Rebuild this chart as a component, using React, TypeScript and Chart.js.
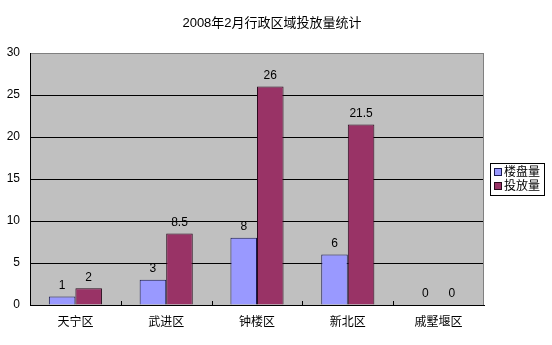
import React, { useEffect, useRef } from "react";
import { Chart, registerables } from "chart.js";

Chart.register(...registerables);

const title = "2008年2月行政区域投放量统计";
const categories = ["天宁区", "武进区", "钟楼区", "新北区", "戚墅堰区"];
const seriesNames = ["楼盘量", "投放量"];
const projects = [1, 3, 8, 6, 0];
const supply = [2, 8.5, 26, 21.5, 0];
const yTicks = [0, 5, 10, 15, 20, 25, 30];

const FONT = '"Liberation Sans", "Noto Sans CJK SC", sans-serif';

const decorPlugin = {
  id: "decor",
  beforeDraw(chart: any) {
    const { ctx, chartArea: a } = chart;
    ctx.save();
    ctx.fillStyle = "#C0C0C0";
    ctx.fillRect(a.left, a.top, a.right - a.left, a.bottom - a.top);
    ctx.restore();
  },
  afterDatasetsDraw(chart: any) {
    const { ctx, chartArea: a } = chart;
    ctx.save();
    // right border
    ctx.strokeStyle = "#808080";
    ctx.lineWidth = 1;
    ctx.beginPath();
    ctx.moveTo(Math.round(a.right) - 0.5, a.top);
    ctx.lineTo(Math.round(a.right) - 0.5, a.bottom);
    ctx.stroke();
    // category boundary tick marks
    const xs = chart.scales.x;
    ctx.strokeStyle = "#000";
    for (let i = 1; i < categories.length; i++) {
      const x = Math.round((xs.getPixelForTick(i - 1) + xs.getPixelForTick(i)) / 2) + 0.5;
      ctx.beginPath();
      ctx.moveTo(x, a.bottom - 4);
      ctx.lineTo(x, a.bottom);
      ctx.stroke();
    }
    // data labels
    ctx.fillStyle = "#000";
    ctx.font = `12px ${FONT}`;
    ctx.textAlign = "center";
    ctx.textBaseline = "middle";
    chart.data.datasets.forEach((ds: any, di: number) => {
      const meta = chart.getDatasetMeta(di);
      meta.data.forEach((el: any, i: number) => {
        ctx.fillText(String(ds.data[i]), el.x, el.y - 11);
      });
    });
    ctx.restore();
  },
  afterDraw(chart: any) {
    const { ctx, chartArea: a } = chart;
    ctx.save();
    // title
    ctx.fillStyle = "#000";
    ctx.font = `13px ${FONT}`;
    ctx.textAlign = "center";
    ctx.textBaseline = "middle";
    ctx.fillText(title, 272, 23);
    // legend
    const lx = Math.round(a.right) + 6;
    const ly = 163;
    ctx.fillStyle = "#fff";
    ctx.fillRect(lx, ly, 54, 32);
    ctx.strokeStyle = "#000";
    ctx.lineWidth = 1;
    ctx.strokeRect(lx + 0.5, ly + 0.5, 54, 32);
    ctx.font = `12px ${FONT}`;
    ctx.textAlign = "left";
    chart.data.datasets.forEach((ds: any, di: number) => {
      const cy = ly + 9 + di * 14;
      ctx.fillStyle = ds.backgroundColor;
      ctx.fillRect(lx + 4, cy - 4, 8, 8);
      ctx.strokeStyle = ds.borderColor;
      ctx.strokeRect(lx + 4.5, cy - 3.5, 7, 7);
      ctx.fillStyle = "#000";
      ctx.fillText(ds.label, lx + 14, cy + 1);
    });
    ctx.restore();
  },
};

export default function App() {
  const ref = useRef<HTMLCanvasElement>(null);
  useEffect(() => {
    if (!ref.current) return;
    const chart = new Chart(ref.current, {
      type: "bar",
      data: {
        labels: categories,
        datasets: [
          {
            label: seriesNames[0],
            data: projects,
            backgroundColor: "#9999FF",
            borderColor: "#1a1a50",
            borderWidth: 1,
            borderSkipped: "bottom",
          },
          {
            label: seriesNames[1],
            data: supply,
            backgroundColor: "#993366",
            borderColor: "#2a0a1c",
            borderWidth: 1,
            borderSkipped: "bottom",
          },
        ],
      },
      options: {
        responsive: false,
        animation: false,
        layout: { padding: { top: 53, right: 68, bottom: 0, left: 0 } },
        datasets: { bar: { categoryPercentage: 0.585, barPercentage: 1 } },
        plugins: {
          legend: { display: false },
          title: { display: false },
          tooltip: { enabled: false },
        },
        scales: {
          x: {
            grid: { display: false, drawTicks: false },
            border: { display: true, color: "#000", width: 1 },
            ticks: { color: "#000", font: { family: FONT, size: 12 }, padding: 10 },
            afterFit(s: any) {
              s.height = 40;
            },
          },
          y: {
            min: 0,
            max: 30,
            afterBuildTicks(s: any) {
              s.ticks = yTicks.map((v) => ({ value: v }));
            },
            grid: {
              color: (c: any) => (c.tick && c.tick.value === 30 ? "#808080" : "#000"),
              lineWidth: 1,
              drawTicks: false,
            },
            border: { display: true, color: "#000", width: 1 },
            ticks: { color: "#000", font: { family: FONT, size: 12 }, padding: 10 },
            afterFit(s: any) {
              s.width = 30;
            },
          },
        },
      },
      plugins: [decorPlugin],
    });
    return () => chart.destroy();
  }, []);
  return (
    <div style={{ position: "fixed", left: 0, top: 0, width: 552, height: 345, background: "#fff" }}>
      <canvas ref={ref} width={552} height={345} />
    </div>
  );
}
